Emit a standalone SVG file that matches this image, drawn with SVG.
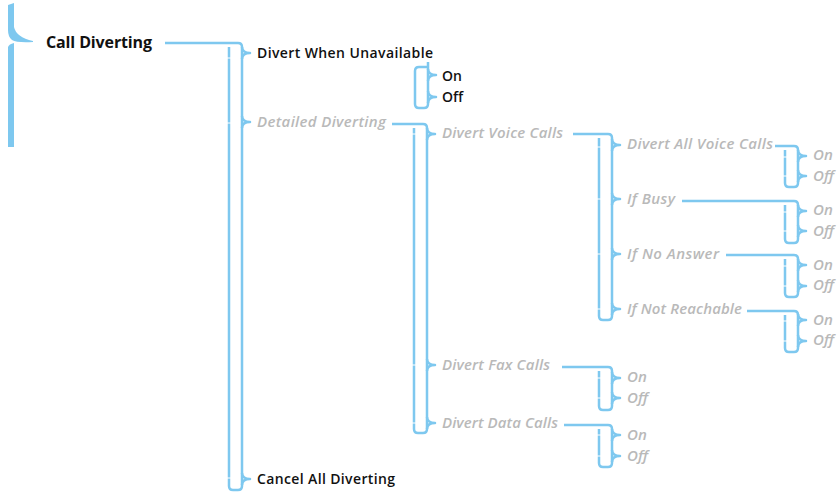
<svg xmlns="http://www.w3.org/2000/svg" width="837" height="492" viewBox="0 0 837 492">
<style>
.c{fill:none;stroke:#7ec8ef;stroke-width:2.5;stroke-linecap:butt;stroke-linejoin:round}
.g{stroke:#fff;stroke-width:1}
text{font-family:"Open Sans","Noto Sans","Liberation Sans",sans-serif;font-size:14px;font-weight:600}
.k{fill:#111}
.i{fill:#b9b9b9;font-style:italic;font-size:15px}
.t{font-size:16px;font-weight:700}
</style>
<rect width="837" height="492" fill="#fff"/>
<g id="root-brace" fill="#7ec8ef">
<path d="M8 5 L14 3 L14 27 Q16 37 33 41 L33 42 Q17 43 12 40 Q8 37 8 30 Z"/>
<path d="M8 47 Q9 44 14 43 L14 147 L8 147 Z"/>
</g>
<g id="connectors">
<path class="c" d="M165 43 H238 Q242 43 242 47 V486 Q242 490 238 490 H233 Q229 490 229 486 V47"/>
<path class="c" d="M242 47 Q242 53 250 53 Q242 53 242 59 M242 116 Q242 122 250 122 Q242 122 242 128 M242 473 Q242 479 250 479 Q242 479 242 485"/>
<path class="g" d="M227 58 H231 M227 123 H231 M227 478 H231"/>

<path class="c" d="M428 62 V104 Q428 108 424 108 H419 Q415 108 415 104 V71 Q415 67 419 67 H428"/>
<path class="c" d="M428 69 Q428 75 436 75 Q428 75 428 81 M428 91 Q428 97 436 97 Q428 97 428 103"/>

<path class="c" d="M392 124 H423 Q427 124 427 128 V429 Q427 433 423 433 H418 Q414 433 414 429 V128"/>
<path class="c" d="M427 128 Q427 134 435 134 Q427 134 427 140 M427 359 Q427 365 435 365 Q427 365 427 371 M427 417 Q427 423 435 423 Q427 423 427 429"/>
<path class="g" d="M412 134 H416 M412 365 H416 M412 423 H416"/>

<path class="c" d="M573 134 H608 Q612 134 612 138 V316 Q612 320 608 320 H603 Q599 320 599 316 V138"/>
<path class="c" d="M612 139 Q612 145 620 145 Q612 145 612 151 M612 193 Q612 199 620 199 Q612 199 612 205 M612 248 Q612 254 620 254 Q612 254 612 260 M612 303 Q612 309 620 309 Q612 309 612 315"/>
<path class="g" d="M597 147 H601 M597 199 H601 M597 254 H601 M597 309 H601"/>

<path class="c" d="M775 146 H794 Q798 146 798 150 V183 Q798 187 794 187 H789 Q785 187 785 183 V150"/>
<path class="c" d="M798 150 Q798 156 806 156 Q798 156 798 162 M798 170 Q798 176 806 176 Q798 176 798 182"/>
<path class="c" d="M682 201 H794 Q798 201 798 205 V239 Q798 243 794 243 H789 Q785 243 785 239 V205"/>
<path class="c" d="M798 205 Q798 211 806 211 Q798 211 798 217 M798 225 Q798 231 806 231 Q798 231 798 237"/>
<path class="c" d="M726 255 H794 Q798 255 798 259 V293 Q798 297 794 297 H789 Q785 297 785 293 V259"/>
<path class="c" d="M798 259 Q798 265 806 265 Q798 265 798 271 M798 280 Q798 286 806 286 Q798 286 798 292"/>
<path class="c" d="M747 311 H794 Q798 311 798 315 V348 Q798 352 794 352 H789 Q785 352 785 348 V315"/>
<path class="c" d="M798 314 Q798 320 806 320 Q798 320 798 326 M798 335 Q798 341 806 341 Q798 341 798 347"/>
<path class="g" d="M783 157 H787 M783 176 H787 M783 212 H787 M783 231 H787 M783 266 H787 M783 286 H787 M783 321 H787 M783 341 H787"/>

<path class="c" d="M562 367 H608 Q612 367 612 371 V406 Q612 410 608 410 H603 Q599 410 599 406 V371"/>
<path class="c" d="M612 372 Q612 378 620 378 Q612 378 612 384 M612 392 Q612 398 620 398 Q612 398 612 404"/>
<path class="c" d="M564 425 H608 Q612 425 612 429 V463 Q612 467 608 467 H603 Q599 467 599 463 V429"/>
<path class="c" d="M612 429 Q612 435 620 435 Q612 435 612 441 M612 450 Q612 456 620 456 Q612 456 612 462"/>
<path class="g" d="M597 378 H601 M597 398 H601 M597 435 H601 M597 456 H601"/>
</g>
<g id="n-call-diverting"><text class="k t" x="46" y="48" textLength="106">Call Diverting</text></g>
<g id="n-divert-when-unavailable"><text class="k" x="257" y="58" textLength="176">Divert When Unavailable</text></g>
<g id="n-dwu-on"><text class="k" x="442" y="81">On</text></g>
<g id="n-dwu-off"><text class="k" x="442" y="102">Off</text></g>
<g id="n-detailed-diverting"><text class="i" x="257" y="127" textLength="129">Detailed Diverting</text></g>
<g id="n-divert-voice-calls"><text class="i" x="442" y="138" textLength="121">Divert Voice Calls</text></g>
<g id="n-divert-all-voice-calls"><text class="i" x="627" y="149" textLength="146">Divert All Voice Calls</text></g>
<g id="n-davc-on"><text class="i" x="813" y="160">On</text></g>
<g id="n-davc-off"><text class="i" x="813" y="181">Off</text></g>
<g id="n-if-busy"><text class="i" x="627" y="204" textLength="48">If Busy</text></g>
<g id="n-busy-on"><text class="i" x="813" y="215">On</text></g>
<g id="n-busy-off"><text class="i" x="813" y="236">Off</text></g>
<g id="n-if-no-answer"><text class="i" x="627" y="259" textLength="92">If No Answer</text></g>
<g id="n-noans-on"><text class="i" x="813" y="270">On</text></g>
<g id="n-noans-off"><text class="i" x="813" y="290">Off</text></g>
<g id="n-if-not-reachable"><text class="i" x="627" y="314" textLength="115">If Not Reachable</text></g>
<g id="n-notreach-on"><text class="i" x="813" y="325">On</text></g>
<g id="n-notreach-off"><text class="i" x="813" y="345">Off</text></g>
<g id="n-divert-fax-calls"><text class="i" x="442" y="370" textLength="108">Divert Fax Calls</text></g>
<g id="n-fax-on"><text class="i" x="627" y="382">On</text></g>
<g id="n-fax-off"><text class="i" x="627" y="403">Off</text></g>
<g id="n-divert-data-calls"><text class="i" x="442" y="428" textLength="116">Divert Data Calls</text></g>
<g id="n-data-on"><text class="i" x="627" y="440">On</text></g>
<g id="n-data-off"><text class="i" x="627" y="461">Off</text></g>
<g id="n-cancel-all-diverting"><text class="k" x="257" y="484" textLength="138">Cancel All Diverting</text></g>
</svg>
